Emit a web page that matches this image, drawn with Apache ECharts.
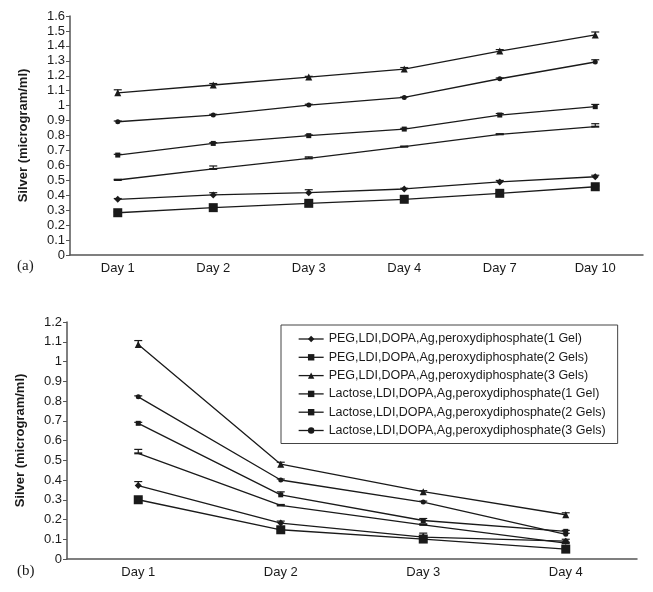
<!DOCTYPE html>
<html><head><meta charset="utf-8">
<script src="https://cdn.jsdelivr.net/npm/echarts@6/dist/echarts.min.js"></script>
<style>html,body{margin:0;padding:0;background:#fff}#c{width:653px;height:592px}</style>
</head><body><div id="c"></div>
<script>
const daysA = ['Day 1','Day 2','Day 3','Day 4','Day 7','Day 10'];
const daysB = ['Day 1','Day 2','Day 3','Day 4'];
const names = [
  'PEG,LDI,DOPA,Ag,peroxydiphosphate(1 Gel)',
  'PEG,LDI,DOPA,Ag,peroxydiphosphate(2 Gels)',
  'PEG,LDI,DOPA,Ag,peroxydiphosphate(3 Gels)',
  'Lactose,LDI,DOPA,Ag,peroxydiphosphate(1 Gel)',
  'Lactose,LDI,DOPA,Ag,peroxydiphosphate(2 Gels)',
  'Lactose,LDI,DOPA,Ag,peroxydiphosphate(3 Gels)'
];
// Panel (a) values
const aPEG1 = [0.373, 0.402, 0.417, 0.442, 0.489, 0.524];
const aPEG2 = [0.669, 0.747, 0.799, 0.843, 0.937, 0.993];
const aPEG3 = [1.086, 1.138, 1.191, 1.245, 1.365, 1.473];
const aLac1 = [0.283, 0.317, 0.346, 0.373, 0.413, 0.457];
const aLac2 = [0.502, 0.576, 0.647, 0.725, 0.808, 0.859];
const aLac3 = [0.892, 0.937, 1.004, 1.055, 1.180, 1.292];
// Panel (a) error bars
const aPEG1e = [0.005, 0.015, 0.02, 0.005, 0.01, 0.01];
const aPEG2e = [0.005, 0.005, 0.005, 0.005, 0.01, 0.015];
const aPEG3e = [0.02, 0.01, 0.005, 0.01, 0.01, 0.02];
const aLac1e = [0.005, 0.005, 0.005, 0.005, 0.005, 0.005];
const aLac2e = [0.005, 0.02, 0.01, 0.003, 0.003, 0.02];
const aLac3e = [0.005, 0.005, 0.005, 0.003, 0.005, 0.015];
// Panel (b) values
const bPEG1 = [0.372, 0.182, 0.111, 0.09];
const bPEG2 = [0.687, 0.325, 0.195, 0.14];
const bPEG3 = [1.086, 0.480, 0.341, 0.224];
const bLac1 = [0.300, 0.148, 0.101, 0.050];
const bLac2 = [0.535, 0.271, 0.173, 0.080];
const bLac3 = [0.821, 0.400, 0.288, 0.125];
// Panel (b) error bars
const bPEG1e = [0.02, 0.01, 0.02, 0.01];
const bPEG2e = [0.005, 0.015, 0.01, 0.005];
const bPEG3e = [0.02, 0.01, 0.005, 0.01];
const bLac1e = [0.01, 0.005, 0.005, 0.005];
const bLac2e = [0.02, 0.005, 0.005, 0.005];
const bLac3e = [0.005, 0.005, 0.005, 0.005];

const symbols = [
  {symbol:'diamond', size:7},
  {symbol:'rect', size:5},
  {symbol:'triangle', size:7},
  {symbol:'rect', size:9},
  {symbol:'path://M0,0H10V1.6H0Z', size:[8,2]},
  {symbol:'circle', size:5}
];
const INK = '#1a1a1a';
const FONT = 'Arial, "Liberation Sans", Helvetica, sans-serif';

function errRender(params, api) {
  const x = api.value(0), y = api.value(1), e = api.value(2);
  const p0 = api.coord([x, y]);
  const p1 = api.coord([x, y + e]);
  const st = {stroke: INK, lineWidth: 1.2};
  return {type:'group', children:[
    {type:'line', shape:{x1:p0[0], y1:p0[1], x2:p1[0], y2:p1[1]}, style:st},
    {type:'line', shape:{x1:p1[0]-4, y1:p1[1], x2:p1[0]+4, y2:p1[1]}, style:st}
  ]};
}

const valsA = [aPEG1, aPEG2, aPEG3, aLac1, aLac2, aLac3];
const errsA = [aPEG1e, aPEG2e, aPEG3e, aLac1e, aLac2e, aLac3e];
const valsB = [bPEG1, bPEG2, bPEG3, bLac1, bLac2, bLac3];
const errsB = [bPEG1e, bPEG2e, bPEG3e, bLac1e, bLac2e, bLac3e];

const series = [];
function addPanel(vals, errs, idx) {
  vals.forEach((v, i) => {
    series.push({
      type:'custom', name:'err'+idx+'_'+i, xAxisIndex:idx, yAxisIndex:idx,
      renderItem: errRender, encode:{x:0, y:1}, z:3, silent:true,
      data: v.map((d, k) => [k, d, errs[i][k]])
    });
    series.push({
      type:'line', name:names[i], xAxisIndex:idx, yAxisIndex:idx, data:v,
      symbol:symbols[i].symbol, symbolSize:symbols[i].size, showSymbol:true,
      lineStyle:{color:INK, width:1.3}, itemStyle:{color:INK, borderColor:INK, borderWidth:0},
      z:4, animation:false
    });
  });
}
addPanel(valsA, errsA, 0);
addPanel(valsB, errsB, 1);

function yAxis(max, gridIndex) {
  return {
    type:'value', gridIndex, min:0, max, interval:0.1,
    name:'Silver (microgram/ml)', nameLocation:'middle', nameGap:40,
    nameTextStyle:{fontFamily:FONT, fontWeight:'bold', fontSize:13, color:INK},
    axisLine:{show:true, lineStyle:{color:'#555', width:1.5}},
    axisTick:{show:true, length:4, lineStyle:{color:'#555'}},
    axisLabel:{fontFamily:FONT, fontSize:13, color:INK, margin:5},
    splitLine:{show:false}
  };
}
function xAxis(data, gridIndex) {
  return {
    type:'category', gridIndex, data, boundaryGap:true,
    axisLine:{show:true, lineStyle:{color:'#555', width:1.5}},
    axisTick:{show:false},
    axisLabel:{fontFamily:FONT, fontSize:13, color:INK, margin:7}
  };
}

const chart = echarts.init(document.getElementById('c'), null, {renderer:'canvas'});
chart.setOption({
  animation:false,
  backgroundColor:'#fff',
  grid:[
    {left:70, right:10, top:16, height:239},
    {left:67, right:16, top:322, height:237}
  ],
  xAxis:[xAxis(daysA, 0), xAxis(daysB, 1)],
  yAxis:[yAxis(1.6, 0), yAxis(1.2, 1)],
  legend:{
    data:names, orient:'vertical', left:281, top:325,
    padding:[7, 12, 6, 17], itemGap:4.3, itemWidth:25, itemHeight:8,
    borderColor:'#444', borderWidth:1, backgroundColor:'#fff',
    selectedMode:false,
    textStyle:{fontFamily:FONT, fontSize:12.5, color:INK, lineHeight:14, padding:[0,0,0,0]},
    itemStyle:{color:INK}, lineStyle:{color:INK, width:1.3}
  },
  graphic:[
    {type:'text', left:17, top:259, style:{text:'(a)', font:'15px "Liberation Serif", "Times New Roman", serif', fill:INK}},
    {type:'text', left:17, top:564, style:{text:'(b)', font:'15px "Liberation Serif", "Times New Roman", serif', fill:INK}}
  ],
  series
});
</script>
</body></html>
